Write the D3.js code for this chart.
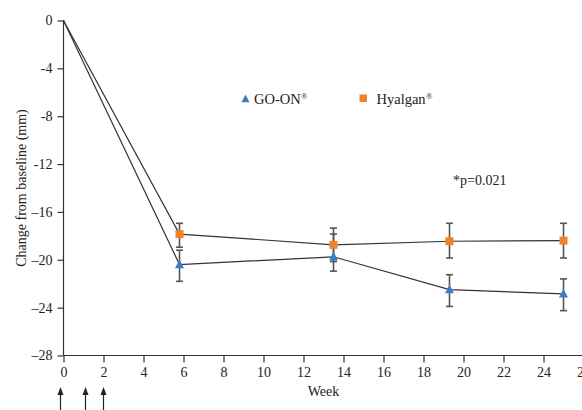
<!DOCTYPE html>
<html><head><meta charset="utf-8">
<script src="https://cdn.jsdelivr.net/npm/d3@7"></script>
<style>body{margin:0;background:#fff}svg{display:block}text{font-family:"Liberation Serif","Times New Roman",serif;fill:#222}</style>
</head><body><div id="chart"></div>
<script>
const weeks = [0, 5.8, 13.5, 19.3, 25];
const goonMean = [0, -20.4, -19.75, -22.5, -22.85];
const goonHigh = [0, -19.2, -17.85, -21.25, -21.6];
const goonLow  = [0, -21.8, -20.95, -23.9, -24.25];
const hyalMean = [0, -17.85, -18.75, -18.45, -18.4];
const hyalHigh = [0, -16.95, -17.35, -16.95, -16.95];
const hyalLow  = [0, -18.95, -20.15, -19.85, -19.85];
const yTicks = [0, -4, -8, -12, -16, -20, -24, -28];
const yTickLabels = ["0", "-4", "-8", "-12", "\u201316", "\u201320", "\u201324", "\u201328"];
const xTicks = [0, 2, 4, 6, 8, 10, 12, 14, 16, 18, 20, 22, 24, 26];
const injectionWeeks = [-0.15, 1.1, 2.0];
const seriesNames = ["GO-ON", "Hyalgan"];
const pText = "*p=0.021";

const W = 582, H = 410;
const svg = d3.select("#chart").append("svg").attr("width", W).attr("height", H);
const x = d3.scaleLinear().domain([0, 26]).range([63.5, 583.5]);
const y = d3.scaleLinear().domain([0, -28]).range([20.5, 355.5]);
const dark = "#333";

// axes
const yAxis = d3.axisLeft(y).tickValues(yTicks).tickSize(6).tickPadding(5)
  .tickFormat((d, i) => yTickLabels[i]);
const gy = svg.append("g").attr("transform", `translate(${x(0)},0)`).call(yAxis);
const xAxis = d3.axisBottom(x).tickValues(xTicks).tickSize(7).tickPadding(5).tickFormat(d3.format("d"));
const gx = svg.append("g").attr("transform", `translate(0,${y(-28)})`).call(xAxis);
[gx, gy].forEach(g => {
  g.select(".domain").attr("stroke", dark).attr("stroke-width", 1.2);
  g.selectAll(".tick line").attr("stroke", dark).attr("stroke-width", 1.2);
  g.selectAll(".tick text").style("font-family", '"Liberation Serif",serif').style("font-size", "14px").attr("fill", "#222");
});
gx.select(".domain").attr("d", `M${x(0)},0H${W + 5}`);
gy.select(".domain").attr("d", `M0,${y(0)}V${y(-28)}`);

// axis titles
svg.append("text").attr("x", x(13)).attr("y", 396).attr("text-anchor", "middle")
  .style("font-size", "14px").text("Week");
svg.append("text").attr("transform", `translate(26,${y(-14)}) rotate(-90)`)
  .attr("text-anchor", "middle").style("font-size", "14px").text("Change from baseline (mm)");

// injection arrows
const arr = svg.append("g");
injectionWeeks.forEach(w => {
  const ax = x(w);
  arr.append("line").attr("x1", ax).attr("x2", ax).attr("y1", 393).attr("y2", 410)
    .attr("stroke", "#222").attr("stroke-width", 1.2);
  arr.append("path").attr("d", `M${ax},387L${ax - 3},395L${ax + 3},395Z`).attr("fill", "#222");
});

const line = d3.line().x(d => x(d[0])).y(d => y(d[1]));
function drawSeries(mean, hi, lo) {
  const pts = weeks.map((w, i) => [w, mean[i], hi[i], lo[i]]);
  svg.append("path").attr("d", line(pts)).attr("fill", "none").attr("stroke", dark).attr("stroke-width", 1.2);
  const eb = svg.append("g").attr("stroke", "#555").attr("stroke-width", 1.6);
  pts.slice(1).forEach(p => {
    const px = x(p[0]);
    eb.append("line").attr("x1", px).attr("x2", px).attr("y1", y(p[2])).attr("y2", y(p[3]));
    eb.append("line").attr("x1", px - 3.5).attr("x2", px + 3.5).attr("y1", y(p[2])).attr("y2", y(p[2]));
    eb.append("line").attr("x1", px - 3.5).attr("x2", px + 3.5).attr("y1", y(p[3])).attr("y2", y(p[3]));
  });
  return pts;
}
const gp = drawSeries(goonMean, goonHigh, goonLow);
const hp = drawSeries(hyalMean, hyalHigh, hyalLow);
const tri = (cx, cy, s) => `M${cx},${cy - s * 0.55}L${cx + s / 2},${cy + s * 0.4}L${cx - s / 2},${cy + s * 0.4}Z`;
hp.slice(1).forEach(p => {
  svg.append("rect").attr("x", x(p[0]) - 4).attr("y", y(p[1]) - 4).attr("width", 8).attr("height", 8).attr("fill", "#f08327");
});
gp.slice(1).forEach(p => {
  svg.append("path").attr("d", tri(x(p[0]), y(p[1]), 9)).attr("fill", "#3a7cc2");
});

// legend
function regText(xp, name) {
  const t = svg.append("text").attr("x", xp).attr("y", 103.5).style("font-size", "14.5px");
  t.append("tspan").text(name);
  t.append("tspan").attr("dy", -5).style("font-size", "9px").text("\u00ae");
}
svg.append("path").attr("d", tri(245.5, 99, 8)).attr("fill", "#3a7cc2");
regText(254, seriesNames[0]);
svg.append("rect").attr("x", 359.5).attr("y", 94.5).attr("width", 7.5).attr("height", 7.5).attr("fill", "#f08327");
regText(376.5, seriesNames[1]);

svg.append("text").attr("x", 453).attr("y", 185).style("font-size", "14px").text(pText);
</script></body></html>
